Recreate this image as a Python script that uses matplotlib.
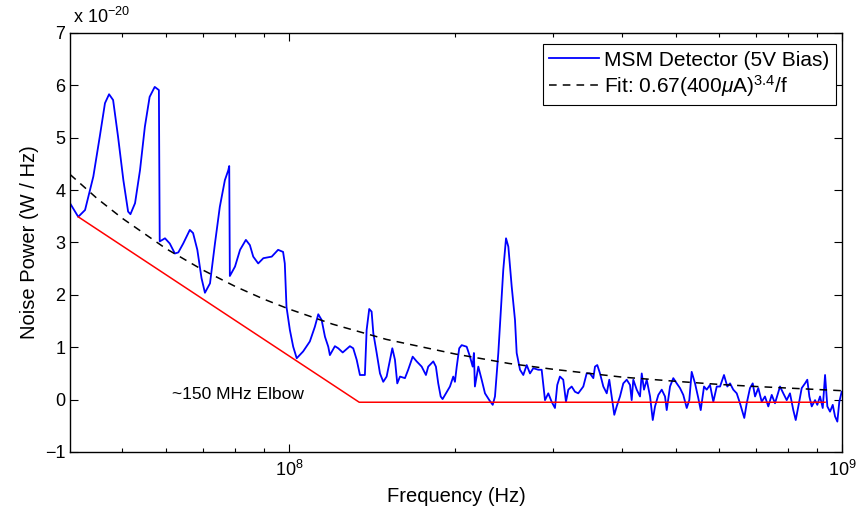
import matplotlib
matplotlib.use("Agg")
import matplotlib.pyplot as plt
from matplotlib.ticker import LogLocator, FixedLocator, FuncFormatter
import numpy as np

plt.rcParams["font.family"] = ["Liberation Sans", "DejaVu Sans"]
plt.rcParams["mathtext.fontset"] = "custom"
plt.rcParams["mathtext.rm"] = "Liberation Sans"
plt.rcParams["mathtext.it"] = "Liberation Sans:italic"
plt.rcParams["mathtext.bf"] = "Liberation Sans:bold"

TICK_SIZE = 13
LABEL_SIZE = 14.5

# measured spectrum, frequency in MHz, noise power in units of 1e-20 W/Hz
freq_mhz = [
	40.2, 41.6, 42.8, 44.3, 45.5, 46.5, 47.3, 48.1, 49.1, 50.2,
	51.2, 51.7, 52.7, 53.8, 54.9, 56.0, 57.2, 58.2, 58.4, 59.7,
	60.9, 62.2, 63.1, 64.4, 66.2, 67.1, 68.3, 69.5, 70.5, 72.0,
	73.5, 75.0, 76.6, 77.7, 78.0, 78.2, 79.9, 81.6, 83.6, 85.0,
	86.2, 88.0, 89.9, 93.1, 95.6, 97.6, 98.3, 99.0, 100.4, 101.8,
	103.3, 106.1, 109.1, 111.4, 113.0, 114.6, 116.2, 117.8, 118.6, 121.1,
	122.8, 125.1, 128.9, 130.7, 132.6, 134.4, 137.2, 138.2, 139.7, 141.1,
	142.1, 144.1, 146.1, 148.1, 150.2, 152.3, 153.8, 155.5, 157.0, 158.8,
	162.1, 164.3, 167.4, 170.2, 173.8, 176.9, 178.6, 182.4, 184.4, 186.2,
	188.1, 189.6, 192.3, 195.5, 198.2, 199.6, 201.1, 203.2, 205.3, 209.6,
	212.5, 214.9, 216.0, 216.9, 220.0, 223.1, 226.2, 230.3, 233.6, 235.8,
	239.1, 241.5, 244.1, 246.9, 249.3, 252.8, 256.3, 258.1, 261.7, 265.3,
	269.1, 272.8, 276.6, 282.4, 286.4, 290.4, 294.4, 298.5, 302.7, 305.6,
	309.0, 313.3, 316.9, 320.0, 324.5, 329.0, 333.5, 340.6, 345.4, 350.2,
	355.1, 357.6, 361.0, 365.1, 370.2, 375.5, 379.5, 383.3, 387.5, 391.4,
	396.8, 402.3, 408.1, 413.7, 416.6, 419.4, 425.4, 431.3, 434.4, 438.5,
	443.5, 449.7, 454.8, 459.1, 465.5, 472.1, 478.6, 482.0, 488.7, 495.4,
	502.5, 509.4, 516.4, 523.9, 529.5, 534.8, 542.3, 549.7, 555.3, 563.0,
	569.3, 577.2, 585.2, 593.6, 601.8, 611.8, 620.3, 627.4, 635.9, 645.1,
	653.9, 665.7, 672.5, 681.7, 689.5, 696.2, 705.7, 715.8, 725.6, 735.7,
	746.3, 756.5, 772.5, 783.1, 794.3, 805.2, 816.4, 824.7, 833.7, 845.5,
	857.3, 865.4, 872.8, 881.5, 893.8, 902.2, 912.5, 922.8, 931.8, 940.7,
	951.3, 962.1, 971.3, 980.7, 988.8, 998.6,
]
noise = [
	3.75, 3.49, 3.62, 4.26, 5.02, 5.66, 5.83, 5.72, 5.02, 4.19,
	3.59, 3.54, 3.75, 4.38, 5.21, 5.78, 5.97, 5.91, 3.02, 3.08,
	2.98, 2.79, 2.81, 2.98, 3.24, 3.18, 2.86, 2.32, 2.04, 2.22,
	2.98, 3.68, 4.19, 4.38, 4.46, 2.36, 2.54, 2.86, 3.05, 2.95,
	2.73, 2.60, 2.70, 2.73, 2.86, 2.82, 2.60, 1.77, 1.33, 1.01,
	0.79, 0.92, 1.11, 1.39, 1.63, 1.52, 1.20, 1.01, 0.85, 1.02,
	0.98, 0.90, 1.02, 0.98, 0.76, 0.47, 0.47, 1.33, 1.73, 1.68,
	1.27, 0.89, 0.50, 0.34, 0.44, 0.76, 0.98, 0.76, 0.31, 0.44,
	0.41, 0.57, 0.82, 0.73, 0.63, 0.47, 0.63, 0.73, 0.63, 0.31,
	0.06, 0.01, 0.12, 0.25, 0.44, 0.34, 0.63, 0.98, 1.04, 1.01,
	0.82, 0.63, 0.89, 0.25, 0.63, 0.38, 0.12, -0.01, -0.10, 0.06,
	0.89, 1.65, 2.48, 3.08, 2.92, 2.16, 1.52, 0.89, 0.57, 0.47,
	0.66, 0.50, 0.60, 0.57, 0.57, -0.01, 0.12, -0.04, -0.16, 0.28,
	0.44, 0.38, -0.04, 0.19, 0.25, 0.15, 0.12, 0.25, 0.50, 0.50,
	0.41, 0.63, 0.66, 0.50, 0.25, 0.12, 0.38, 0.06, -0.29, -0.13,
	0.06, 0.31, 0.38, 0.28, -0.01, 0.38, 0.19, 0.06, 0.50, 0.19,
	0.38, 0.06, -0.39, -0.13, 0.09, 0.19, 0.06, -0.20, 0.25, 0.41,
	0.31, 0.22, 0.09, -0.16, -0.01, 0.53, 0.31, 0.03, -0.20, 0.25,
	0.19, 0.28, -0.04, 0.25, 0.25, 0.47, 0.25, 0.31, 0.19, 0.12,
	-0.07, -0.35, -0.07, 0.22, 0.31, 0.06, 0.22, -0.04, 0.06, -0.13,
	0.09, -0.07, 0.25, 0.12, -0.01, 0.12, -0.20, -0.39, -0.13, 0.22,
	0.31, 0.38, 0.06, -0.13, -0.01, -0.10, 0.06, -0.16, 0.47, -0.13,
	-0.23, -0.10, -0.32, -0.42, -0.04, 0.15,
]

# 1/f fit
fit_freq_mhz = [40.2, 45, 50, 60, 70, 80, 90, 100, 120, 150, 200, 250,
	300, 400, 500, 600, 700, 800, 1000]
fit_noise = [4.30, 3.84, 3.46, 2.88, 2.47, 2.16, 1.92, 1.73, 1.44, 1.15,
	0.87, 0.69, 0.58, 0.43, 0.35, 0.29, 0.25, 0.22, 0.17]

# hand-drawn elbow guide
elbow_freq_mhz = [41.6, 134.0, 931.8]
elbow_noise = [3.49, -0.05, -0.05]

MHZ = 1.e6


def setup_axes():
	fig = plt.figure(figsize = (8.6, 5.12), dpi = 100)
	ax = fig.add_axes([0.0814, 0.1172, 0.8977, 0.8184])
	ax.set_xscale("log")
	ax.set_xlim([4.02e7, 1.e9])
	ax.set_ylim([-1, 7])
	ax.xaxis.set_major_locator(FixedLocator([1.e8, 1.e9]))
	ax.xaxis.set_minor_locator(LogLocator(base = 10, subs = range(2, 10)))
	ax.xaxis.set_major_formatter(FuncFormatter(
		lambda v, pos: r"$10^{%d}$" % (int(round(np.log10(v))))))
	ax.set_yticks(range(-1, 8))
	ax.set_yticklabels(["\u22121"] + [str(i) for i in range(0, 8)])
	ax.tick_params(which = "both", direction = "in", top = True,
		right = True, labelsize = TICK_SIZE, width = 0.8, colors = "black")
	ax.tick_params(which = "major", length = 6)
	ax.tick_params(which = "minor", length = 3)
	ax.tick_params(axis = "x", which = "major", pad = 6)
	for s in ax.spines.values():
		s.set_linewidth(1.0)
	ax.set_xlabel("Frequency (Hz)", fontsize = LABEL_SIZE, labelpad = 4.5)
	ax.set_ylabel("Noise Power (W / Hz)", fontsize = LABEL_SIZE,
		labelpad = 4)
	return fig, ax


def main():
	fig, ax = setup_axes()
	f = [x * MHZ for x in freq_mhz]
	ax.plot(f, noise, color = "#0000ff", lw = 1.3,
		label = "MSM Detector (5V Bias)")
	ax.plot([x * MHZ for x in fit_freq_mhz], fit_noise, color = "black",
		lw = 1.1, dashes = (5, 4),
		label = r"Fit: 0.67(400$\mu$A)$^{3.4}$/f")
	ax.plot([x * MHZ for x in elbow_freq_mhz], elbow_noise, color = "#ff0000",
		lw = 1.1)
	ax.text(61.5 * MHZ, 0.1, "~150 MHz Elbow", fontsize = 12.5,
		va = "center", ha = "left")
	ax.annotate(r"x 10$^{-20}$", xy = (0, 1), xycoords = "axes fraction",
		xytext = (2, 4), textcoords = "offset points", fontsize = TICK_SIZE,
		ha = "left", va = "bottom")
	leg = ax.legend(loc = "upper right", bbox_to_anchor = (0.992, 0.973),
		fontsize = 15, handlelength = 2.4, fancybox = False,
		framealpha = 1, edgecolor = "black", borderpad = 0.3,
		labelspacing = 0.15, handletextpad = 0.25, borderaxespad = 0)
	leg.get_frame().set_linewidth(0.8)
	fig.savefig("out.png", dpi = 100)


main()
